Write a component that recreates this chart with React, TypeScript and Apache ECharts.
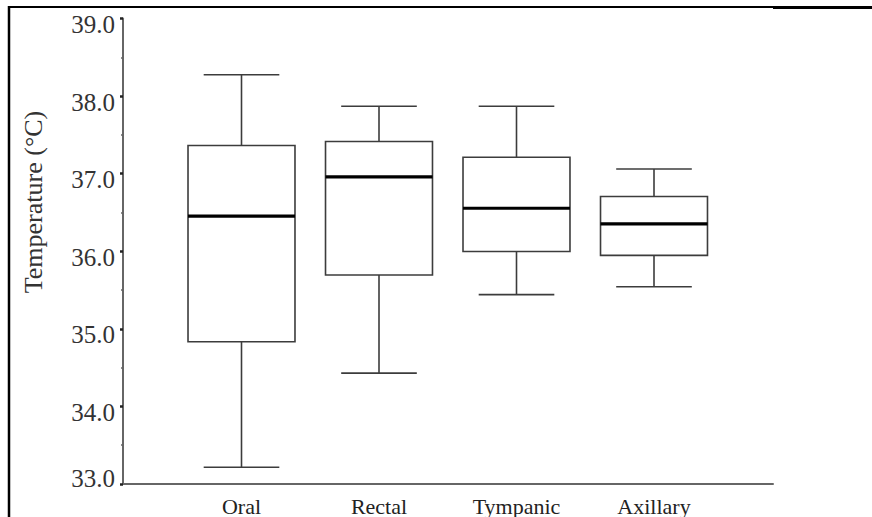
import React, { useEffect, useRef } from "react";
import * as echarts from "echarts";

const categories = ["Oral", "Rectal", "Tympanic", "Axillary"];
const minValues = [33.2, 34.4, 35.4, 35.5];
const q1Values = [34.8, 35.65, 35.95, 35.9];
const medianValues = [36.4, 36.9, 36.5, 36.3];
const q3Values = [37.3, 37.35, 37.15, 36.65];
const maxValues = [38.2, 37.8, 37.8, 37.0];
const yMin = 33;
const yMax = 39;
const yAxisTitle = "Temperature (°C)";

const FONT = "'Liberation Serif', 'Times New Roman', serif";

export default function App() {
  const ref = useRef<HTMLDivElement>(null);
  useEffect(() => {
    if (!ref.current) return;
    const chart = echarts.init(ref.current, null, { renderer: "svg" });
    const data = categories.map((c, i) => [
      i,
      minValues[i],
      q1Values[i],
      medianValues[i],
      q3Values[i],
      maxValues[i],
    ]);
    const option: any = {
      animation: false,
      backgroundColor: "#fff",
      grid: [
        { left: 123, top: 12, width: 650, height: 472, containLabel: false },
        { left: 172.75, top: 12, width: 550, height: 472, containLabel: false },
      ],
      xAxis: [
        {
          gridIndex: 0,
          type: "value",
          min: 0,
          max: 1,
          axisLine: { show: true, lineStyle: { color: "#666", width: 2 } },
          axisTick: { show: false },
          axisLabel: { show: false },
          splitLine: { show: false },
        },
        {
          gridIndex: 1,
          type: "category",
          data: categories,
          boundaryGap: true,
          axisLine: { show: false },
          axisTick: { show: false },
          splitLine: { show: false },
          axisLabel: {
            show: true,
            margin: 12,
            verticalAlign: "top",
            fontFamily: FONT,
            fontSize: 22,
            color: "#222",
            interval: 0,
          },
        },
      ],
      yAxis: [
        {
          gridIndex: 0,
          type: "value",
          min: yMin,
          max: yMax,
          interval: 1,
          axisLine: { show: true, lineStyle: { color: "#666", width: 2 } },
          axisTick: { show: true, length: 3, lineStyle: { color: "#222", width: 2.5 } },
          minorTick: { show: true, splitNumber: 2, length: 2, lineStyle: { color: "#666", width: 1.5 } },
          splitLine: { show: false },
          axisLabel: {
            show: true,
            margin: 8,
            formatter: (v: number) => (v === yMin ? v.toFixed(1) + "\n " : " \n" + v.toFixed(1)),
            fontFamily: FONT,
            fontSize: 25,
            color: "#333",
            verticalAlign: "middle",
            lineHeight: 12,
          },
        },
        {
          gridIndex: 1,
          type: "value",
          min: yMin,
          max: yMax,
          show: false,
          splitLine: { show: false },
        },
      ],
      graphic: [
        {
          type: "text",
          x: 33,
          y: 202,
          rotation: Math.PI / 2,
          style: {
            text: yAxisTitle,
            fontFamily: FONT,
            fontSize: 26,
            fill: "#333",
            align: "center",
            verticalAlign: "middle",
          },
        },
        { type: "line", shape: { x1: 8, y1: 7, x2: 773, y2: 7 }, style: { stroke: "#000", lineWidth: 2 } },
        { type: "line", shape: { x1: 773, y1: 7.5, x2: 872, y2: 7.5 }, style: { stroke: "#000", lineWidth: 3 } },
        { type: "line", shape: { x1: 9, y1: 6, x2: 9, y2: 517 }, style: { stroke: "#000", lineWidth: 2.5 } },
      ],
      series: [
        {
          type: "custom",
          xAxisIndex: 1,
          yAxisIndex: 1,
          encode: { x: 0, y: [1, 2, 3, 4, 5] },
          data,
          renderItem: (params: any, api: any) => {
            const idx = api.value(0);
            const p = (v: number) => api.coord([idx, v]);
            const [cx, yLo] = p(api.value(1));
            const yQ1 = p(api.value(2))[1];
            const yMed = p(api.value(3))[1];
            const yQ3 = p(api.value(4))[1];
            const yHi = p(api.value(5))[1];
            const band = api.size([1, 0])[0];
            const bw = band * 0.778;
            const cw = band * 0.55;
            const stroke = { stroke: "#3c3c3c", lineWidth: 1.6 };
            return {
              type: "group",
              children: [
                { type: "line", shape: { x1: cx, y1: yQ3, x2: cx, y2: yHi }, style: stroke },
                { type: "line", shape: { x1: cx, y1: yQ1, x2: cx, y2: yLo }, style: stroke },
                { type: "line", shape: { x1: cx - cw / 2, y1: yHi, x2: cx + cw / 2, y2: yHi }, style: stroke },
                { type: "line", shape: { x1: cx - cw / 2, y1: yLo, x2: cx + cw / 2, y2: yLo }, style: stroke },
                {
                  type: "rect",
                  shape: { x: cx - bw / 2, y: yQ3, width: bw, height: yQ1 - yQ3 },
                  style: { fill: "#fff", stroke: "#3c3c3c", lineWidth: 1.6 },
                },
                {
                  type: "line",
                  shape: { x1: cx - bw / 2, y1: yMed, x2: cx + bw / 2, y2: yMed },
                  style: { stroke: "#000", lineWidth: 3.2 },
                },
              ],
            };
          },
        },
      ],
    };
    chart.setOption(option);
    return () => chart.dispose();
  }, []);
  return (
    <div
      ref={ref}
      style={{ position: "absolute", left: 0, top: 0, width: 872, height: 517 }}
    />
  );
}
